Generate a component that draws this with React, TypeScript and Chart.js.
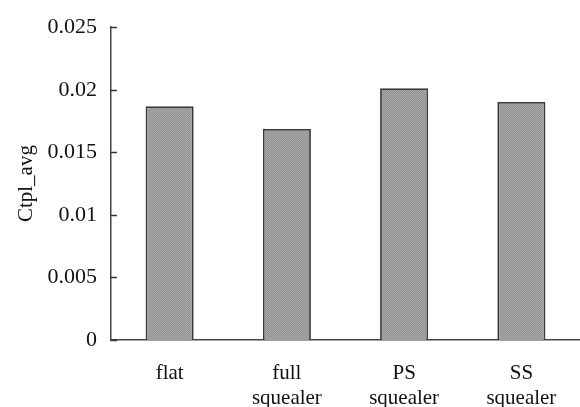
import React, { useEffect, useRef } from "react";
import { Chart, registerables } from "chart.js";

Chart.register(...registerables);

const categories: string[][] = [["flat"], ["full", "squealer"], ["PS", "squealer"], ["SS", "squealer"]];
const ctplAvg: number[] = [0.01868, 0.01687, 0.02012, 0.01902];
const yTicks: number[] = [0, 0.005, 0.01, 0.015, 0.02, 0.025];
const yTitle = "Ctpl_avg";

function makePattern(): CanvasPattern | string {
  const c = document.createElement("canvas");
  c.width = 2;
  c.height = 2;
  const g = c.getContext("2d");
  if (!g) return "#9c9c9c";
  g.fillStyle = "#929292";
  g.fillRect(0, 0, 2, 2);
  g.fillStyle = "#a8a8a8";
  g.fillRect(0, 0, 1, 1);
  g.fillRect(1, 1, 1, 1);
  const p = g.createPattern(c, "repeat");
  return p || "#9c9c9c";
}

const innerTicks = {
  id: "innerTicks",
  afterDraw(chart: any) {
    const y = chart.scales.y;
    const ctx = chart.ctx;
    ctx.save();
    ctx.strokeStyle = "#333";
    ctx.lineWidth = 1.5;
    const x0 = chart.chartArea.left;
    yTicks.forEach((v) => {
      const py = Math.round(y.getPixelForValue(v)) + 0.5;
      ctx.beginPath();
      ctx.moveTo(x0, py);
      ctx.lineTo(x0 + 6, py);
      ctx.stroke();
    });
    ctx.restore();
  },
};

export default function App() {
  const ref = useRef<HTMLCanvasElement>(null);
  useEffect(() => {
    if (!ref.current) return;
    const font = "'Liberation Serif', 'Times New Roman', serif";
    const chart = new Chart(ref.current, {
      type: "bar",
      data: {
        labels: categories,
        datasets: [
          {
            data: ctplAvg,
            backgroundColor: makePattern() as any,
            borderColor: "#3a3a3a",
            borderWidth: 1.8,
            categoryPercentage: 1,
            barPercentage: 0.41,
          },
        ],
      },
      options: {
        animation: false,
        responsive: false,
        devicePixelRatio: 1,
        layout: { padding: { top: 23, right: 0, left: 0, bottom: 0 } },
        plugins: { legend: { display: false }, tooltip: { enabled: false } },
        scales: {
          x: {
            grid: { display: false, drawTicks: false },
            border: { display: true, color: "#444", width: 1.5 },
            ticks: {
              color: "#111",
              font: { family: font, size: 21 },
              padding: 21,
              maxRotation: 0,
              autoSkip: false,
            },
            afterFit: (s: any) => {
              s.height = 407 - 340;
            },
          },
          y: {
            min: 0,
            max: 0.025,
            afterBuildTicks: (s: any) => {
              s.ticks = yTicks.map((v) => ({ value: v }));
            },
            grid: { display: false, drawTicks: false },
            border: { display: true, color: "#444", width: 1.5 },
            ticks: {
              color: "#111",
              font: { family: font, size: 22 },
              padding: 14,
              callback: (v: any) => String(Number(v)),
            },
            title: {
              display: true,
              text: yTitle,
              color: "#111",
              font: { family: font, size: 21 },
              padding: { top: 14, bottom: 0 },
            },
            afterFit: (s: any) => {
              s.width = 111;
            },
          },
        },
      },
      plugins: [innerTicks],
    });
    return () => chart.destroy();
  }, []);
  return (
    <div style={{ position: "fixed", left: 0, top: 0, width: 580, height: 407, background: "#fff" }}>
      <canvas ref={ref} width={580} height={407} style={{ width: 580, height: 407 }} />
    </div>
  );
}
